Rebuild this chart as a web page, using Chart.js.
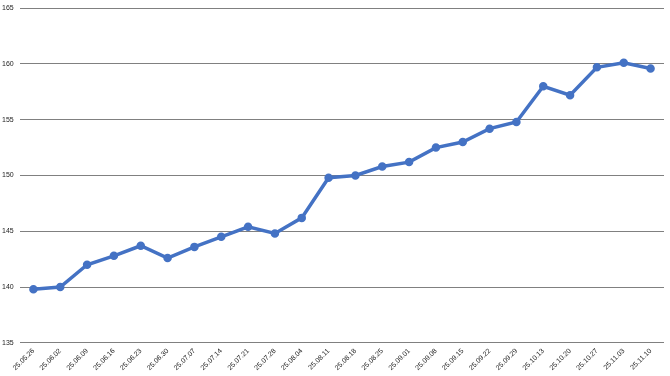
<!DOCTYPE html>
<html>
<head>
<meta charset="utf-8">
<script src="https://cdn.jsdelivr.net/npm/chart.js@4.4.1/dist/chart.umd.min.js"></script>
<style>
  html, body { margin: 0; padding: 0; background: #fff; }
  #wrap { width: 670px; height: 376px; }
</style>
</head>
<body>
<div id="wrap"><canvas id="myChart"></canvas></div>
<script>
// weekly dates (yy.mm.dd)
const dates = [
  '25.05.26', '25.06.02', '25.06.09', '25.06.16', '25.06.23', '25.06.30',
  '25.07.07', '25.07.14', '25.07.21', '25.07.28', '25.08.04', '25.08.11',
  '25.08.18', '25.08.25', '25.09.01', '25.09.08', '25.09.15', '25.09.22',
  '25.09.29', '25.10.13', '25.10.20', '25.10.27', '25.11.03', '25.11.10'
];

const values = [
  139.8, 140.0, 142.0, 142.8, 143.7, 142.6,
  143.6, 144.5, 145.4, 144.8, 146.2, 149.8,
  150.0, 150.8, 151.2, 152.5, 153.0, 154.2,
  154.8, 158.0, 157.2, 159.7, 160.1, 159.6
];

const yMin = 135;
const yMax = 165;
const yStep = 5;

const blue = '#4472c4';

const data = {
  labels: dates,
  datasets: [{
    data: values,
    borderColor: blue,
    backgroundColor: blue,
    borderWidth: 3.5,
    pointRadius: 2.5,
    pointHoverRadius: 2.5,
    tension: 0
  }]
};

const config = {
  type: 'line',
  data,
  options: {
    responsive: true,
    maintainAspectRatio: false,
    animation: false,
    layout: { padding: { top: 0, right: 5, left: 2, bottom: 0 } },
    plugins: {
      legend: { display: false },
      tooltip: { enabled: false }
    },
    scales: {
      x: {
        offset: true,
        grid: { display: false, drawTicks: false },
        border: { display: false },
        ticks: {
          autoSkip: false,
          minRotation: 45,
          maxRotation: 45,
          padding: 4,
          color: '#222',
          font: { family: 'Liberation Sans', size: 7 }
        }
      },
      y: {
        min: yMin,
        max: yMax,
        grid: { color: '#808080', lineWidth: 1, drawTicks: false },
        border: { display: false },
        afterFit: (s) => { s.width = 18; },
        ticks: {
          stepSize: yStep,
          crossAlign: 'far',
          padding: 4,
          color: '#222',
          font: { family: 'Liberation Sans', size: 7 }
        }
      }
    }
  }
};

new Chart(document.getElementById('myChart'), config);
</script>
</body>
</html>
